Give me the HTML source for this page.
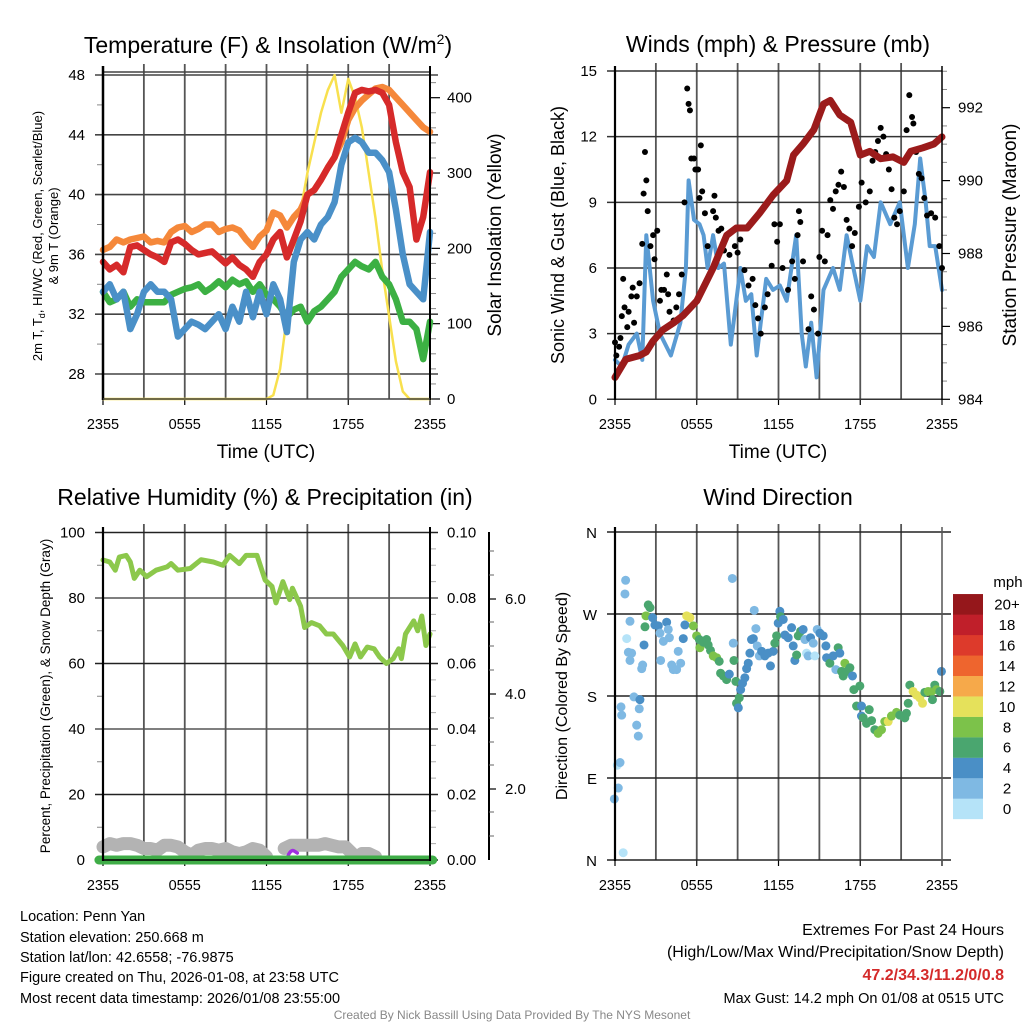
<!DOCTYPE html>
<html><head><meta charset="utf-8">
<style>
body{margin:0;background:#fff;}
svg{display:block;font-family:"Liberation Sans",sans-serif;}
</style></head>
<body>
<svg id="s" width="1024" height="1024" viewBox="0 0 1024 1024" xmlns="http://www.w3.org/2000/svg">
<rect x="0" y="0" width="1024" height="1024" fill="#fff"/>
<text x="268" y="53" font-size="23" text-anchor="middle">Temperature (F) &amp; Insolation (W/m<tspan font-size="14" dy="-9">2</tspan><tspan dy="9">)</tspan></text>
<text x="778" y="52" font-size="23" text-anchor="middle">Winds (mph) &amp; Pressure (mb)</text>
<text x="265" y="505" font-size="23" text-anchor="middle">Relative Humidity (%) &amp; Precipitation (in)</text>
<text x="778" y="505" font-size="23" text-anchor="middle">Wind Direction</text>
<text x="266" y="458" font-size="19" text-anchor="middle">Time (UTC)</text>
<text x="778" y="458" font-size="19" text-anchor="middle">Time (UTC)</text>
<text transform="translate(42,236) rotate(-90)" font-size="13" text-anchor="middle">2m T, T<tspan font-size="9" dy="3">d</tspan><tspan dy="-3">, HI/WC (Red, Green, Scarlet/Blue)</tspan></text>
<text transform="translate(58,236) rotate(-90)" font-size="13" text-anchor="middle">&amp; 9m T (Orange)</text>
<text transform="translate(501,235) rotate(-90)" font-size="19" text-anchor="middle">Solar Insolation (Yellow)</text>
<text transform="translate(564,235) rotate(-90)" font-size="18" text-anchor="middle">Sonic Wind &amp; Gust (Blue, Black)</text>
<text transform="translate(1016,235) rotate(-90)" font-size="19" text-anchor="middle">Station Pressure (Maroon)</text>
<text transform="translate(50,696) rotate(-90)" font-size="13.5" text-anchor="middle">Percent, Precipitation (Green), &amp; Snow Depth (Gray)</text>
<text transform="translate(567,696) rotate(-90)" font-size="16" text-anchor="middle">Direction (Colored By Speed)</text>
<g font-size="14.5">
<text x="20" y="921">Location: Penn Yan</text>
<text x="20" y="942">Station elevation: 250.668 m</text>
<text x="20" y="962">Station lat/lon: 42.6558; -76.9875</text>
<text x="20" y="982">Figure created on Thu, 2026-01-08, at 23:58 UTC</text>
<text x="20" y="1003">Most recent data timestamp: 2026/01/08 23:55:00</text>
</g>
<g text-anchor="end">
<text x="1004" y="935" font-size="16">Extremes For Past 24 Hours</text>
<text x="1004" y="957" font-size="16">(High/Low/Max Wind/Precipitation/Snow Depth)</text>
<text x="1004" y="980" font-size="16" font-weight="bold" fill="#d42a2a">47.2/34.3/11.2/0/0.8</text>
<text x="1004" y="1003" font-size="14.5">Max Gust: 14.2 mph On 01/08 at 0515 UTC</text>
</g>
<text x="512" y="1019" font-size="12" fill="#888" text-anchor="middle">Created By Nick Bassill Using Data Provided By The NYS Mesonet</text>
</svg>
<script>
const hrs=[0,0.5,1,1.5,2,2.5,3,3.5,4,4.5,5,5.5,6,6.5,7,7.5,8,8.5,9,9.5,10,10.5,11,11.5,12,12.5,13,13.5,14,14.5,15,15.5,16,16.5,17,17.5,18,18.5,19,19.5,20,20.5,21,21.5,22,22.5,23,23.5,24];
const t9m=[36.3,36.5,37.0,36.8,37.0,37.1,37.2,36.8,36.9,36.8,37.5,37.8,37.9,37.5,37.7,38.0,38.0,37.5,37.7,37.8,37.6,37.0,36.5,37.2,37.6,38.8,38.6,37.8,38.5,39.0,40.0,40.3,41.0,41.8,42.5,43.5,45.0,45.8,46.3,46.7,47.1,47.2,47.0,46.5,46.0,45.5,45.0,44.5,44.2];
const t2m=[35.5,35.0,35.3,34.8,36.5,36.6,36.3,36.0,35.8,35.5,36.8,37.0,36.7,36.3,36.0,36.1,36.2,35.8,35.4,35.8,35.3,35.0,34.5,35.5,36.0,37.0,37.5,35.8,37.0,38.2,40.0,40.3,41.0,41.8,42.5,44.0,45.5,46.8,47.0,46.9,47.0,46.8,46.0,43.5,41.5,40.5,37.0,38.5,41.5];
const hiwc=[33.5,34.0,33.0,33.5,31.0,32.0,33.5,34.0,33.5,33.5,33.0,30.5,31.0,31.5,31.3,31.0,31.5,32.0,31.0,32.5,31.5,33.5,31.8,33.5,32.0,34.0,33.0,30.8,35.5,37.0,37.5,37.0,38.0,38.5,39.5,42.0,43.5,43.8,43.5,42.8,42.8,42.3,41.5,39.0,36.0,34.0,33.5,33.0,37.5];
const dewpt=[33.5,32.8,33.0,33.5,32.5,33.0,32.8,32.8,32.8,32.8,33.3,33.5,33.7,33.8,34.0,33.5,33.8,34.2,33.8,34.3,34.0,34.2,33.5,34.0,33.3,33.0,32.5,31.8,32.3,32.5,31.5,32.2,32.5,33.0,33.5,34.5,35.0,35.5,35.2,35.0,35.5,34.5,34.0,33.0,31.5,31.5,31.0,29.0,31.5];
const solar=[0,0,0,0,0,0,0,0,0,0,0,0,0,0,0,0,0,0,0,0,0,0,0,0,0,5,40,110,180,250,300,340,380,410,430,380,425,400,360,300,240,170,110,50,10,0,0,0,0];
const windT=[0,0.5,1,1.6,2,2.3,2.8,3.3,4.1,4.8,5.2,5.4,5.8,6.2,6.5,6.8,7.2,7.6,8,8.5,9.2,9.6,10,10.4,10.8,11.1,11.6,12.1,12.6,13.3,13.7,14,14.4,14.8,15.3,16,16.5,17,17.5,18,18.5,19,19.5,20.2,20.9,21.5,22,22.4,22.8,23.1,23.5,24];
const windV=[1.8,1.5,2.5,3,1.8,7.5,4.5,3,2,3.5,6,10,8.2,8,7.5,6,7.5,6,6.2,2.5,6,4.5,4.8,2,4,5.5,5,5.2,4.5,7.5,3,1.5,3.5,1,5,6,5,7.5,6,4.5,7,6.5,9,8,9,6,8,11,9,7,7,5];
const gustT=[0,0.1,0.3,0.4,0.5,0.6,0.7,0.9,1,1.2,1.3,1.4,1.6,1.8,2,2.1,2.2,2.3,2.4,2.6,2.8,2.9,3.1,3.3,3.4,3.6,3.8,3.9,4.0,4.3,4.5,4.7,4.9,5.1,5.3,5.4,5.5,5.6,5.8,5.9,6.1,6.2,6.3,6.4,6.6,6.8,7.2,7.3,7.4,7.6,7.8,8,8.4,8.8,9,9.2,9.5,9.8,10.1,10.3,10.5,10.7,11,11.2,11.5,11.7,11.9,12.1,12.3,12.7,13.0,13.2,13.4,13.5,13.6,13.8,14.2,14.4,14.6,14.9,15,15.2,15.4,15.6,15.8,16,16.2,16.4,16.6,16.8,17,17.2,17.4,17.6,17.9,18.1,18.4,18.7,18.9,19.1,19.3,19.5,19.7,19.9,20.1,20.3,20.5,20.7,20.9,21.2,21.4,21.6,21.8,21.9,22.1,22.3,22.5,22.7,22.9,23.2,23.5,23.8,24];
const gustV=[2.6,2,2.4,2.8,3.8,5.5,4.2,3.3,4,4.7,5.1,3.5,4.7,5.3,7.1,9.4,11.3,10,8.6,7,7.5,6.4,7.7,4.5,5,5,5.7,4.8,4,3.6,4.2,4.8,5.7,9,14.2,13.5,13.2,11,11,10.5,10.5,9.2,11.6,9.5,8.5,7,8.6,9.3,8.3,7.7,7.8,6.8,6.6,7,6.7,7.3,5.9,5.2,5.5,4.3,3.7,3,4.2,4.8,6.1,8,7.2,8,6,5,6.3,5.5,7.5,8.6,8.1,6.3,3.2,4.7,4.1,3,6.5,7.7,6.3,7.5,9.1,8.7,9.5,9.8,10.4,9.7,8.2,7.8,7,7.6,8.8,9.9,9,9.5,10.9,11.3,11.8,12.4,12,11.2,10.5,9.6,8.3,8,8.6,9.5,12.3,13.9,12.9,12.6,11.3,10.3,10.1,9.2,8.4,8.5,8.3,7,6];
const presT=[0,0.8,1.8,2.3,2.8,3.5,4.3,5,6,7.2,8.2,8.9,9.7,10.6,11.6,12.6,13.1,13.8,14.6,15.3,15.8,16.5,17.3,18,18.7,19.5,20.4,21.2,21.7,22.6,23.4,24];
const presV=[984.6,985.1,985.2,985.3,985.6,985.9,986.1,986.3,986.7,987.6,988.5,988.7,988.7,989.1,989.6,990.0,990.7,991.0,991.4,992.1,992.2,991.8,991.6,990.7,990.8,990.6,990.65,990.5,990.8,990.9,991.0,991.2];
const rhT=[0,0.5,0.9,1.2,1.7,2,2.3,2.7,3.2,3.9,4.7,5,5.5,6.4,7.2,8.1,8.8,9.3,10,10.5,11.3,11.9,12.4,12.7,13.2,13.7,13.9,14.5,14.8,15.3,15.9,16.4,16.9,17.6,18.1,18.5,18.9,19.4,19.9,20.3,20.8,21.3,21.7,21.9,22.2,22.8,23.1,23.4,23.7,24];
const rhV=[91.6,91,88.5,92.5,93,91,86,88.5,86.5,88.5,89.5,90.5,88.5,89,91.7,91,90,93,90.5,93,93,85.5,83.5,78.5,85,79.5,83,77.5,71,72.5,71.5,69,69,65.5,62,66,62,65,64.5,62,60,61.5,64.5,61.5,69,73,70,74.5,65.5,69];
const snowT=[0,0.5,1,1.5,2,2.5,3,3.5,4,4.5,5,5.5,6,6.5,7,7.5,8,8.5,9,9.5,10,10.5,11,11.5,12,12.6,13.3,13.8,14.3,14.8,15.3,15.8,16.3,16.8,17.3,17.8,18.3,18.6,19,19.5,20];
const snowV=[4,5,4.5,5,5,4.5,3.5,3.5,3,4.5,4.5,4,2.5,1.5,3,3.5,3.5,3,3.5,2.5,2,2.5,3.5,3,1,null,3.5,4.5,4.5,4.5,4.5,4.5,5,4.5,4,4,2,null,2,2,1];
const dirT=[-0.05,0.17,0.24,0.37,0.6,0.49,0.44,0.78,0.73,0.86,1.1,0.98,1.22,1.1,1.39,1.59,1.71,1.78,1.83,1.96,2.03,2.13,2.2,2.27,2.44,2.57,2.76,2.93,3.18,3.3,3.35,3.55,3.79,3.91,3.99,4.16,4.28,4.52,4.64,4.82,5.01,5.13,5.26,5.5,5.75,5.99,6.23,6.19,6.48,6.72,6.84,7.01,7.21,7.46,7.65,7.75,7.95,8.19,8.39,8.68,8.61,8.73,8.87,8.92,9.05,9.12,9.22,9.36,9.53,9.66,9.78,9.9,10.02,10.15,10.22,10.34,10.44,10.59,10.76,11.0,11.24,11.41,11.61,11.73,11.86,11.98,12.1,12.15,12.35,12.47,12.71,12.96,13.08,13.2,13.33,13.45,13.62,13.81,13.94,14.06,14.18,14.35,14.55,14.67,14.84,15.04,15.28,15.48,15.53,15.77,16.01,16.21,16.38,16.5,16.63,16.75,16.87,17.04,17.24,17.43,17.53,17.73,17.97,18.09,18.09,18.22,18.46,18.66,18.83,19.07,19.31,19.56,19.8,20.05,20.29,20.66,20.9,21.27,21.39,21.52,21.64,21.88,22.13,22.37,22.57,22.74,22.98,23.23,23.3,23.47,23.59,23.84,23.96];
const dirV=[67,104,79,107,8,159,168,307,292,243,262,228,227,219,179,148,136,166,176,210,214,236,256,268,280,277,266,258,257,249,219,240,261,253,244,214,209,209,229,216,243,258,268,266,257,246,233,242,239,242,236,230,224,222,218,205,202,198,204,238,309,219,196,172,167,178,187,194,200,210,216,227,242,243,274,254,235,224,229,224,227,213,229,238,246,260,273,267,264,247,244,255,235,219,225,246,251,253,242,227,224,244,238,224,253,249,246,235,222,216,224,209,233,227,207,202,216,207,211,202,187,169,191,169,158,156,150,165,153,143,139,143,152,152,158,162,159,156,161,172,192,185,181,178,172,184,185,185,176,192,187,185,207];
const dirS=[3,1,3,3,1,3,3,3,3,1,3,3,3,3,3,3,3,3,5,3,3,5,7,9,7,7,5,5,5,3,3,3,5,3,3,3,3,3,3,3,5,5,11,11,9,9,9,7,7,7,7,7,9,9,7,7,7,7,5,3,3,7,7,7,5,7,5,5,5,5,5,5,5,5,3,3,3,3,5,5,5,5,5,7,7,5,5,7,5,5,5,5,5,5,7,7,7,5,3,1,3,5,3,1,3,5,5,5,5,7,5,3,7,5,7,7,9,7,7,5,7,7,7,5,5,7,7,7,7,7,9,9,9,11,9,9,7,7,7,7,7,11,11,11,11,7,9,9,7,7,9,7,5];
const cbarLabels=["0","2","4","6","8","10","12","14","16","18","20+"];
const cbarColors=["#b5e3f8","#7fb9e3","#4a8fc6","#4aa66f","#7cc24a","#e5e15b","#f6a94a","#ee652e","#dd3a2b","#c01f2a","#95171b"];
const tickHours=[0,6,12,18,24];
const tickText=["2355","0555","1155","1755","2355"];

const S=document.getElementById('s');
const NS='http://www.w3.org/2000/svg';
function mk(tag,attrs,name,inter){
  const el=document.createElementNS(NS,tag);
  for(const k in attrs)el.setAttribute(k,attrs[k]);
  
  
  S.appendChild(el);return el;
}
function txt(x,y,s,size,anchor,name){const e=mk('text',{x:x,y:y,'font-size':size,'text-anchor':anchor||'middle'},name);e.textContent=s;return e;}
function polyline(xs,ys,fx,fy,stroke,w,name,cap){
  let d='';let pen=false;
  for(let i=0;i<xs.length;i++){if(ys[i]==null){pen=false;continue;}d+=(pen?'L':'M')+fx(xs[i]).toFixed(1)+','+fy(ys[i]).toFixed(1);pen=true;}
  return mk('path',{d:d,fill:'none',stroke:stroke,'stroke-width':w,'stroke-linejoin':'round','stroke-linecap':cap||'round'},name);
}
function ln(x1,y1,x2,y2,c,w,name){return mk('line',{x1:x1,y1:y1,x2:x2,y2:y2,stroke:c,'stroke-width':w},name);}

function timeGrid(x0,x1,yTop,yBot,prefix){
  const fx=t=>x0+t*(x1-x0)/24;
  for(let h=3;h<24;h+=3)ln(fx(h),yTop-8,fx(h),yBot,'#555',1.8,prefix+'-vgrid');
  for(let i=0;i<tickHours.length;i++){
    ln(fx(tickHours[i]),yBot,fx(tickHours[i]),yBot+6,'#000',1.2,prefix+'-xtick');
    txt(fx(tickHours[i]),yBot+30,tickText[i],14.5,'middle',prefix+'-xtick-label');
  }
  return fx;
}
// ---- Top-left: temperature ----
const xTL=timeGrid(103,430,72,399,'temp');
const yT=v=>374-(v-28)*14.95;
const yS=w=>399-w*(301.3/400);
[28,32,36,40,44,48].forEach(v=>{ln(95,yT(v),438,yT(v),'#444',1.6,'temp-hgrid');txt(85,yT(v)+5,String(v),15,'end','temp-ytick-label');});
[30,34,38,42,46].forEach(v=>ln(97,yT(v),103,yT(v),'#888',1,'temp-minor-tick'));
ln(103,72,430,72,'#444',1.5,'temp-top-frame');
[0,100,200,300,400].forEach(w=>{ln(430,yS(w),440,yS(w),'#000',1.2,'solar-tick');txt(447,yS(w)+5,String(w),15,'start','solar-tick-label');});
for(let w=20;w<430;w+=20){if(w%100)ln(430,yS(w),436,yS(w),'#888',1,'solar-minor-tick');}
polyline(hrs,solar,xTL,yS,'#f8e04e',2.5,'solar-line');
polyline(hrs,dewpt,xTL,yT,'#3cb043',6.5,'dewpoint-line');
polyline(hrs,hiwc,xTL,yT,'#4a90c8',6.5,'windchill-line');
polyline(hrs,t9m,xTL,yT,'#f5883a',6.5,'temp-9m-line');
polyline(hrs,t2m,xTL,yT,'#d62a2a',6.5,'temp-2m-line');
ln(103,66,103,400,'#000',2.5,'temp-left-axis');
ln(430,66,430,400,'#000',2,'temp-right-axis');
ln(103,399,430,399,'#444',1.5,'temp-bottom-frame');

// ---- Top-right: wind ----
const xTR=timeGrid(615,942,71,399,'wind');
const yW=v=>399.3-v*(328.3/15);
const yP=p=>399.3-(p-984)*36.45;
[0,3,6,9,12,15].forEach(v=>{ln(607,yW(v),942,yW(v),'#333',1.5,'wind-hgrid');txt(597,yW(v)+5,String(v),15,'end','wind-ytick-label');});
[984,986,988,990,992].forEach(p=>{ln(942,yP(p),950,yP(p),'#000',1.2,'pressure-tick');txt(958,yP(p)+5,String(p),15,'start','pressure-tick-label');});
for(let p=984.5;p<993.5;p+=0.5){if(p%2)ln(942,yP(p),947,yP(p),'#888',1,'pressure-minor-tick');}
polyline(windT,windV,xTR,yW,'#5a9bd3',4,'wind-speed-line');
for(let i=0;i<gustT.length;i++){
  const c=mk('circle',{cx:xTR(gustT[i]),cy:yW(gustV[i]),r:3,fill:'#000'},'gust-dot');
}
polyline(presT,presV,xTR,yP,'#9b1b1b',7,'pressure-line');
ln(615,66,615,400,'#000',2.2,'wind-left-axis');
ln(942,66,942,400,'#000',1.5,'wind-right-axis');

// ---- Bottom-left: RH ----
const xBL=timeGrid(103,430,532,860,'rh');
const yH=v=>860-v*3.275;
[0,20,40,60,80,100].forEach(v=>{ln(95,yH(v),438,yH(v),v%40==0&&v?'#555':'#222',1.5,'rh-hgrid');txt(85,yH(v)+5,String(v),15,'end','rh-ytick-label');});
[10,30,50,70,90].forEach(v=>ln(97,yH(v),103,yH(v),'#888',1,'rh-minor-tick'));
['0.00','0.02','0.04','0.06','0.08','0.10'].forEach((s,i)=>{txt(447,yH(i*20)+5,s,15,'start','precip-tick-label');});
for(let v=5;v<100;v+=5){if(v%20)ln(430,yH(v),436,yH(v),'#aaa',1,'precip-minor-tick');}
ln(489,532,489,860,'#000',2,'snow-axis');
[[2,789],[4,694],[6,599]].forEach(a=>{ln(489,a[1],496,a[1],'#000',1.2,'snow-tick');txt(505,a[1]+5,a[0].toFixed(1),15,'start','snow-tick-label');});
[551,575,622,646,670,718,742,765,812,836].forEach(y=>ln(489,y,494,y,'#666',1,'snow-minor-tick'));
polyline(snowT,snowV,xBL,yH,'#b3b3b3',13,'snow-depth-line');
mk('path',{d:'M'+xBL(13.6)+','+(yH(1.5))+' q3,-6 6,-4 l3,2',fill:'none',stroke:'#a030e0','stroke-width':3.5,'stroke-linecap':'round'},'precip-rate-mark');
ln(xBL(-0.3),860,xBL(24.2),860,'#3fad47',9,'precip-line').setAttribute('stroke-linecap','round');
polyline(rhT,rhV,xBL,yH,'#8cc84b',5,'rh-line');
ln(103,527,103,861,'#000',2.2,'rh-left-axis');
ln(430,527,430,861,'#000',2,'rh-right-axis');
ln(103,860,430,860,'#000',1.5,'rh-bottom-frame');

// ---- Bottom-right: direction ----
const xBR=timeGrid(615,942,532,860,'dir');
const yD=d=>860-d*(328/360);
['N','E','S','W','N'].forEach((s,i)=>{ln(607,yD(i*90),951,yD(i*90),'#222',1.5,'dir-hgrid');txt(597,yD(i*90)+6,s,15,'end','dir-ytick-label');});
function spdColor(s){let k=Math.floor(s/2);if(k>10)k=10;if(k<0)k=0;return cbarColors[k];}
for(let i=0;i<dirT.length;i++){
  const c=mk('circle',{cx:xBR(dirT[i]),cy:yD(dirV[i]),r:4.5,fill:spdColor(dirS[i])},'direction-dot');
}
ln(615,527,615,861,'#000',2.2,'dir-left-axis');
ln(942,527,942,861,'#555',1.5,'dir-right-axis');
txt(1008,587,'mph',15,'middle','colorbar-title');
for(let i=0;i<cbarColors.length;i++){
  const y=819-(i+1)*20.45;
  mk('rect',{x:953,y:y,width:30,height:20.6,fill:cbarColors[i]},'colorbar-box');
  txt(1007,y+15.5,cbarLabels[i],15,'middle','colorbar-label');
}
</script>
</body></html>
